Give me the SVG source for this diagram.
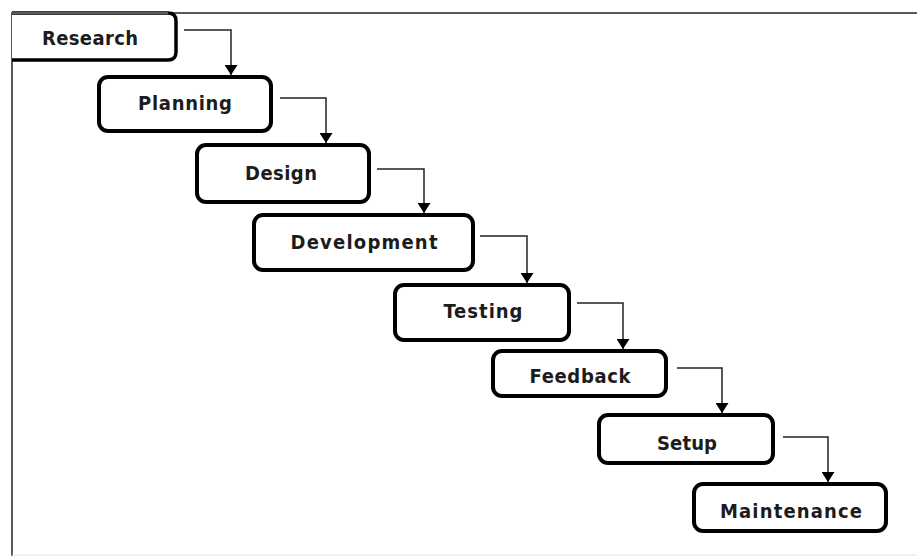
<svg xmlns="http://www.w3.org/2000/svg" width="917" height="556" viewBox="0 0 917 556">
  <style>
    .box { fill: #fff; stroke: #000; stroke-width: 4; }
    .lbl { font-family: "DejaVu Sans Condensed", "DejaVu Sans", "Liberation Sans", sans-serif; font-stretch: condensed; font-weight: bold; font-size: 20px; fill: #1c1c1c; text-anchor: middle; }
    .wire { fill: none; stroke: #222; stroke-width: 1.5; }
    .frame { fill: none; stroke: #5a5a5a; stroke-width: 2; }
  </style>
  <defs>
    <marker id="arrow" markerUnits="userSpaceOnUse" markerWidth="14" markerHeight="13" refX="10" refY="6.5" orient="auto">
      <path d="M0,0 L10,6.5 L0,13 Z" fill="#000"/>
    </marker>
  </defs>

  <rect width="917" height="556" fill="#fff"/>

  <!-- outer frame -->
  <g id="frame">
    <path class="frame" d="M12,556 L12,13 L917,13"/>
    <line x1="12" y1="555" x2="917" y2="555" stroke="#e2e2e2" stroke-width="1"/>
  </g>

  <!-- phase steps -->
  <g id="research">
    <path d="M12,13 L168,13 Q176,13 176,21 L176,52 Q176,60 168,60 L12,60" fill="#fff" stroke="#000" stroke-width="3.5"/>
    <path class="frame" d="M12,13 L168,13"/>
    <text class="lbl" x="90" y="45" textLength="96" lengthAdjust="spacing">Research</text>
  </g>
  <g id="planning">
    <rect class="box" x="99" y="77" width="172" height="54" rx="9"/>
    <text class="lbl" x="185" y="110" textLength="94" lengthAdjust="spacing">Planning</text>
  </g>
  <g id="design">
    <rect class="box" x="197" y="145" width="172" height="57" rx="9"/>
    <text class="lbl" x="281" y="180" textLength="72" lengthAdjust="spacing">Design</text>
  </g>
  <g id="development">
    <rect class="box" x="254" y="215" width="219" height="55" rx="9"/>
    <text class="lbl" x="364" y="249" textLength="147" lengthAdjust="spacing">Development</text>
  </g>
  <g id="testing">
    <rect class="box" x="395" y="285" width="174" height="55" rx="9"/>
    <text class="lbl" x="483" y="318" textLength="79" lengthAdjust="spacing">Testing</text>
  </g>
  <g id="feedback">
    <rect class="box" x="493" y="351" width="173" height="45" rx="9"/>
    <text class="lbl" x="580" y="383" textLength="101" lengthAdjust="spacing">Feedback</text>
  </g>
  <g id="setup">
    <rect class="box" x="599" y="415" width="174" height="48" rx="9"/>
    <text class="lbl" x="687" y="450" textLength="60" lengthAdjust="spacing">Setup</text>
  </g>
  <g id="maintenance">
    <rect class="box" x="694" y="484" width="192" height="47" rx="9"/>
    <text class="lbl" x="791" y="518" textLength="142" lengthAdjust="spacing">Maintenance</text>
  </g>

  <!-- step connectors -->
  <g id="connectors">
    <path class="wire" marker-end="url(#arrow)" d="M184,30 H231 V75"/>
    <path class="wire" marker-end="url(#arrow)" d="M280,98 H326 V143"/>
    <path class="wire" marker-end="url(#arrow)" d="M377,169 H424 V213"/>
    <path class="wire" marker-end="url(#arrow)" d="M480,236 H527 V283"/>
    <path class="wire" marker-end="url(#arrow)" d="M577,303 H623 V349"/>
    <path class="wire" marker-end="url(#arrow)" d="M677,368 H722 V413"/>
    <path class="wire" marker-end="url(#arrow)" d="M783,437 H828 V482"/>
  </g>
</svg>
